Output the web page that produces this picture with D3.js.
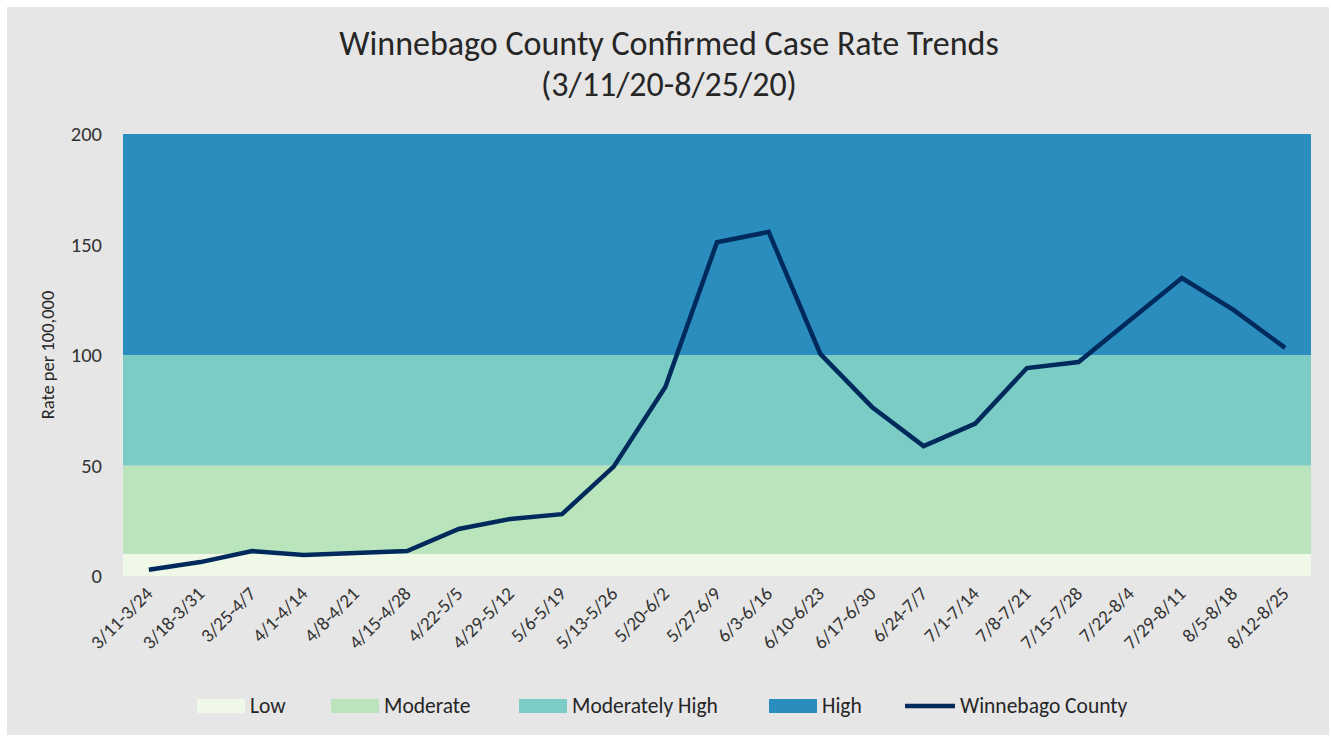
<!DOCTYPE html>
<html>
<head>
<meta charset="utf-8">
<script src="https://cdn.jsdelivr.net/npm/d3@7"></script>
<style>
  body { margin: 0; background: #ffffff; }
  text { font-family: Carlito, Calibri, Lato, "Open Sans", sans-serif; fill: #262626; }
</style>
</head>
<body>
<div id="chart"></div>
<script>
// data
const weeks = ["3/11-3/24", "3/18-3/31", "3/25-4/7", "4/1-4/14", "4/8-4/21", "4/15-4/28",
  "4/22-5/5", "4/29-5/12", "5/6-5/19", "5/13-5/26", "5/20-6/2", "5/27-6/9", "6/3-6/16",
  "6/10-6/23", "6/17-6/30", "6/24-7/7", "7/1-7/14", "7/8-7/21", "7/15-7/28", "7/22-8/4",
  "7/29-8/11", "8/5-8/18", "8/12-8/25"];
const winnebago = [2.8, 6.3, 11.3, 9.5, 10.4, 11.3, 21.3, 25.8, 28, 49.5, 85.5, 151, 155.7,
  100.5, 76.5, 58.8, 69, 94.1, 96.8, 115.8, 134.8, 120.4, 103.2];
const levelNames = ["Low", "Moderate", "Moderately High", "High"];
const levelLow = [0, 10, 50, 100];
const levelHigh = [10, 50, 100, 200];
const yTicks = [0, 50, 100, 150, 200];
const seriesName = "Winnebago County";

const width = 1331, height = 738;
const margin = { top: 134, right: 20, bottom: 162, left: 123 };
const colors = ["#f0f9e8", "#bae4bc", "#7bccc4", "#2b8cbe"];
const lineColor = "#002a5c";

const svg = d3.select("#chart").append("svg")
  .attr("width", width)
  .attr("height", height);

// grey chart panel
svg.append("rect")
  .attr("x", 7).attr("y", 7)
  .attr("width", width - 9).attr("height", height - 10)
  .attr("fill", "#e6e6e6");

const x = d3.scaleBand().domain(weeks).range([margin.left, width - margin.right]);
const y = d3.scaleLinear().domain([0, 200]).range([height - margin.bottom, margin.top]);

// title
const title = svg.append("text")
  .attr("x", 669).attr("text-anchor", "middle")
  .style("font-size", "34px");
title.append("tspan").attr("x", 669).attr("y", 55).text("Winnebago County Confirmed Case Rate Trends");
title.append("tspan").attr("x", 669).attr("y", 96).text("(3/11/20-8/25/20)");

// level bands
svg.selectAll(".band")
  .data(levelNames)
  .enter()
  .append("rect")
  .attr("class", "band")
  .attr("x", margin.left)
  .attr("width", width - margin.right - margin.left)
  .attr("y", (d, i) => y(levelHigh[i]))
  .attr("height", (d, i) => y(levelLow[i]) - y(levelHigh[i]))
  .attr("fill", (d, i) => colors[i]);

// y axis
const yAxis = d3.axisLeft(y).tickValues(yTicks).tickSize(0).tickPadding(21);
svg.append("g")
  .attr("transform", `translate(${margin.left},0)`)
  .call(yAxis)
  .call(g => g.select(".domain").remove())
  .selectAll("text")
  .style("font-size", "20.5px")
  .style("fill", "#333");

svg.append("text")
  .attr("transform", `translate(54,${(y(0) + y(200)) / 2}) rotate(-90)`)
  .attr("text-anchor", "middle")
  .style("font-size", "18.5px")
  .text("Rate per 100,000");

// x axis
const xAxis = d3.axisBottom(x).tickSize(0).tickPadding(0);
svg.append("g")
  .attr("transform", `translate(0,${y(0)})`)
  .call(xAxis)
  .call(g => g.select(".domain").remove())
  .selectAll("text")
  .attr("text-anchor", "end")
  .attr("dy", 0)
  .attr("transform", "translate(5,19) rotate(-45)")
  .style("font-size", "19px")
  .style("fill", "#333");

// line
const line = d3.line()
  .x((d, i) => x(weeks[i]) + x.bandwidth() / 2)
  .y(d => y(d));

svg.append("path")
  .datum(winnebago)
  .attr("d", line)
  .attr("fill", "none")
  .attr("stroke", lineColor)
  .attr("stroke-width", 4.5)
  .attr("stroke-linejoin", "miter");

// legend
const legendX = [197, 331, 519, 769];
const legend = svg.append("g");
levelNames.forEach((name, i) => {
  legend.append("rect")
    .attr("x", legendX[i]).attr("y", 699)
    .attr("width", 48).attr("height", 14)
    .attr("fill", colors[i]);
  legend.append("text")
    .attr("x", legendX[i] + 53).attr("y", 713)
    .style("font-size", "21.5px")
    .text(name);
});
legend.append("line")
  .attr("x1", 905).attr("x2", 955)
  .attr("y1", 706).attr("y2", 706)
  .attr("stroke", lineColor).attr("stroke-width", 4.5);
legend.append("text")
  .attr("x", 960).attr("y", 713)
  .style("font-size", "21.5px")
  .text(seriesName);
</script>
</body>
</html>
